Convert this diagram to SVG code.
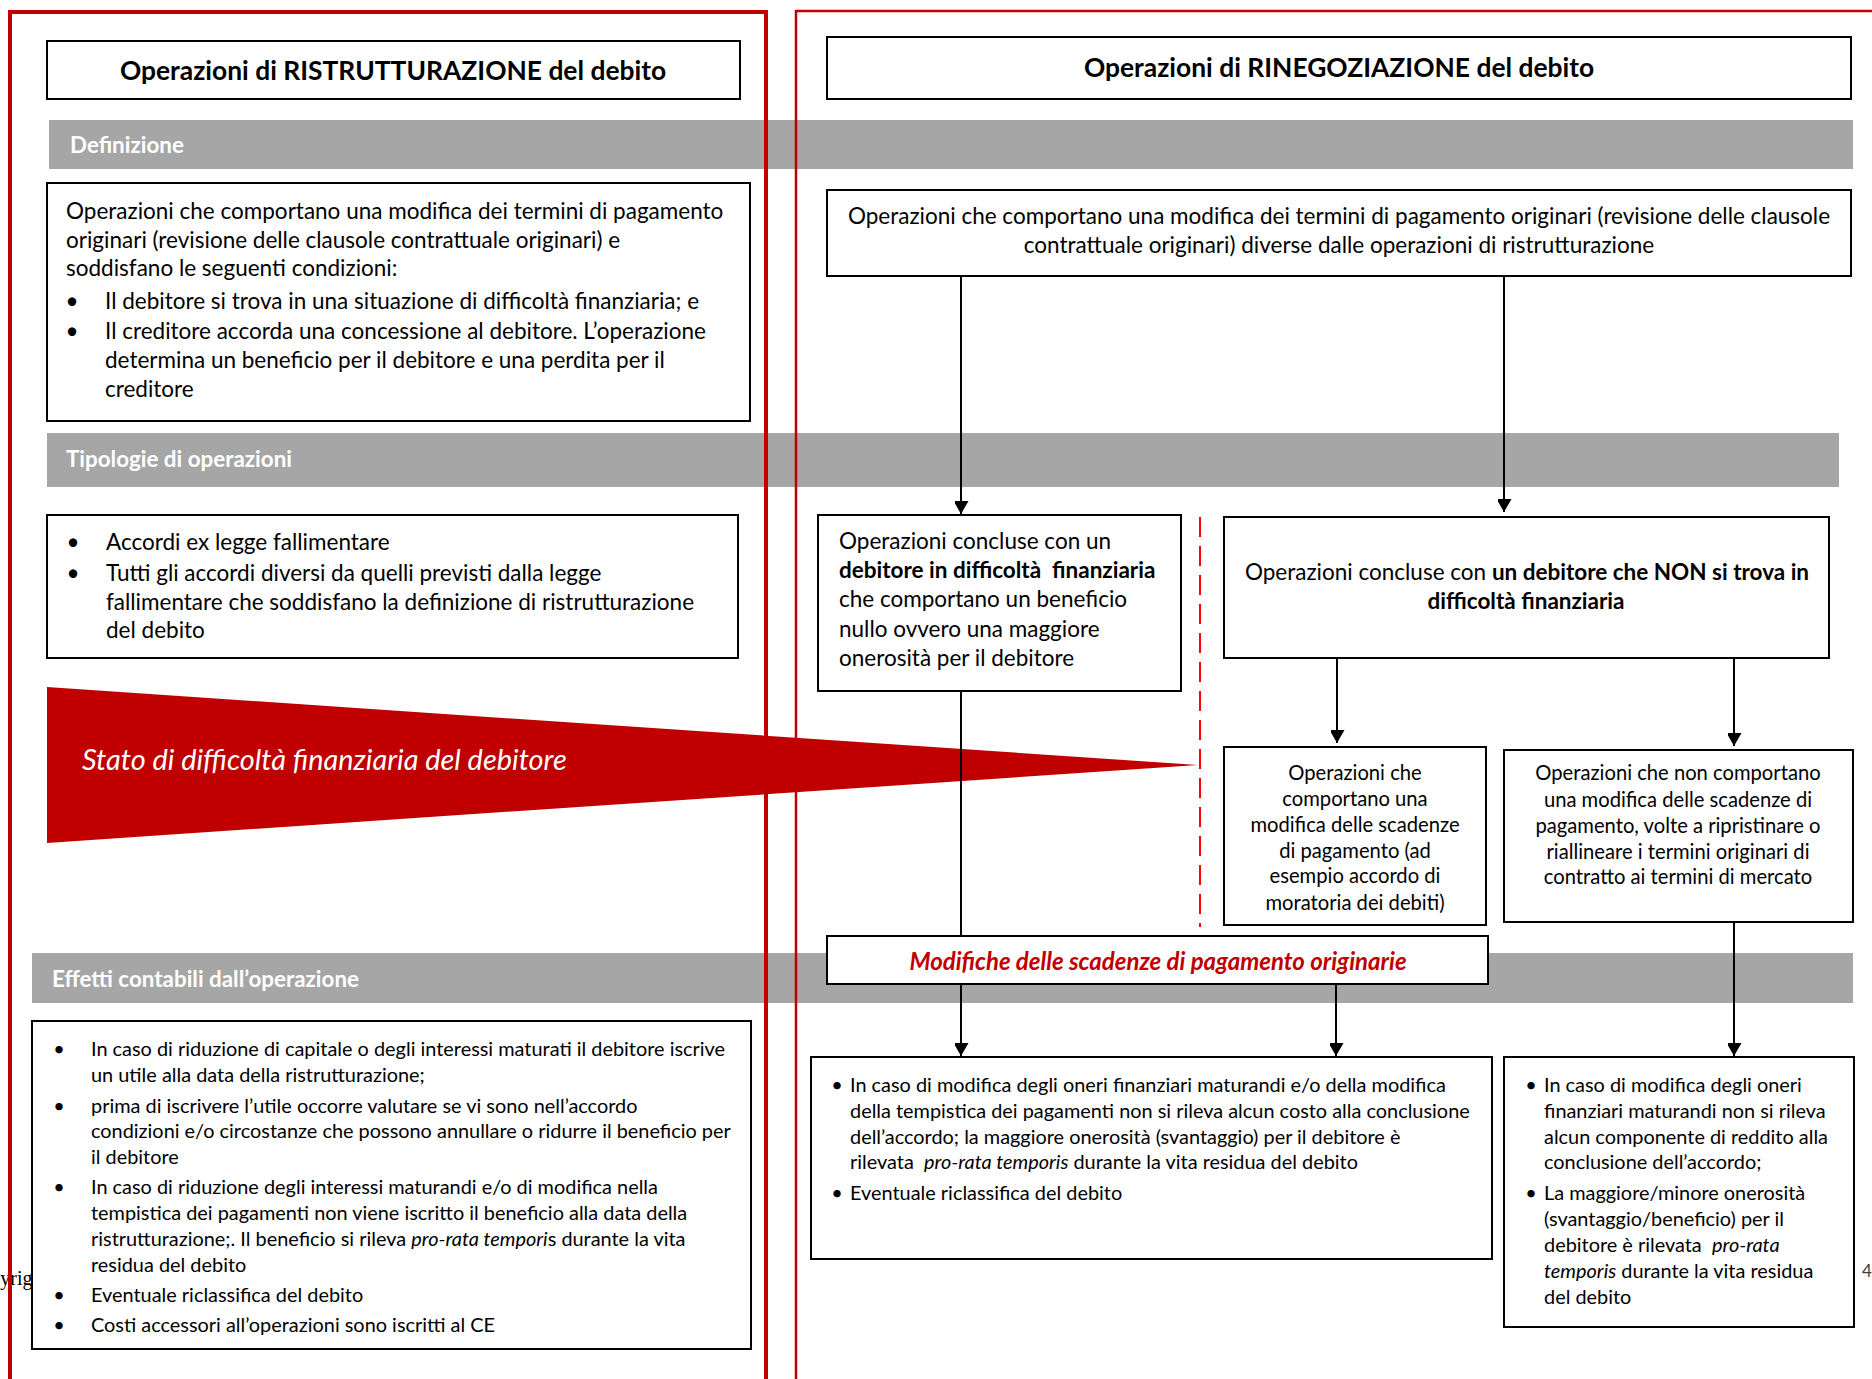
<svg xmlns="http://www.w3.org/2000/svg" width="1872" height="1379" viewBox="0 0 1872 1379">
<style>
text{font-family:Lato,"Open Sans","Liberation Sans",sans-serif;fill:#000}
.box{fill:#fff;stroke:#000;stroke-width:2}
.band{fill:#A6A6A6}
.bl{font-weight:bold;font-size:22.4px;fill:#fff}
.t20{font-size:22.5px}
.t18{font-size:20.2px}
.t17{font-size:19.9px}
.title{font-size:26.4px;font-weight:bold}
.b{font-weight:bold}
.i{font-style:italic}
.mid{text-anchor:middle}
.frame{fill:none;stroke:#C00000}
.conn{fill:none;stroke:#000;stroke-width:2}
</style>
<defs>
<marker id="ah" markerUnits="userSpaceOnUse" markerWidth="16" markerHeight="14" refX="13" refY="7.5" orient="auto">
<path d="M0,0 L13,7.5 L0,15 Z" fill="#000"/>
</marker>
</defs>
<rect width="1872" height="1379" fill="#fff"/>
<text x="-33" y="1285" style="font-family:'Liberation Serif',serif;font-size:20px">Copyright</text>
<g id="bands">
<rect class="band" x="49" y="120" width="1804" height="49"/>
<rect class="band" x="47" y="433" width="1792" height="54"/>
<rect class="band" x="32" y="953" width="1821" height="50"/>
<text class="bl" x="70" y="153">Definizione</text>
<text class="bl" x="66" y="467">Tipologie di operazioni</text>
<text class="bl" x="52" y="987">Effetti contabili dall’operazione</text>
</g>
<g id="frames">
<path class="frame" d="M10,1379 V12 H766 V1379" stroke-width="4"/>
<path class="frame" d="M796,1379 V11 H1872" stroke-width="2.5"/>
</g>
<g id="wedge">
<polygon points="47,687 1198,765 47,843" fill="#C00000"/>
<text x="82" y="770" class="i" style="font-size:28.9px;fill:#fff">Stato di difficoltà finanziaria del debitore</text>
</g>
<g id="title-left">
<rect class="box" x="47" y="41" width="693" height="58"/>
<text class="title mid" x="393" y="80">Operazioni di RISTRUTTURAZIONE del debito</text>
</g>
<g id="title-right">
<rect class="box" x="827" y="37" width="1024" height="62"/>
<text class="title mid" x="1339" y="77">Operazioni di RINEGOZIAZIONE del debito</text>
</g>
<g id="def-left">
<rect class="box" x="47" y="183" width="703" height="238"/>
<text class="t20" x="66" y="219">Operazioni che comportano una modifica dei termini di pagamento</text>
<text class="t20" x="66" y="248">originari (revisione delle clausole contrattuale originari) e</text>
<text class="t20" x="66" y="276">soddisfano le seguenti condizioni:</text>
<text class="t20 mid" x="72" y="309">•</text>
<text class="t20" x="105" y="309">Il debitore si trova in una situazione di difficoltà finanziaria; e</text>
<text class="t20 mid" x="72" y="339">•</text>
<text class="t20" x="105" y="339">Il creditore accorda una concessione al debitore. L’operazione</text>
<text class="t20" x="105" y="368">determina un beneficio per il debitore e una perdita per il</text>
<text class="t20" x="105" y="397">creditore</text>
</g>
<g id="def-right">
<rect class="box" x="827" y="190" width="1024" height="86"/>
<text class="t20 mid" x="1339" y="224">Operazioni che comportano una modifica dei termini di pagamento originari (revisione delle clausole</text>
<text class="t20 mid" x="1339" y="253">contrattuale originari) diverse dalle operazioni di ristrutturazione</text>
</g>
<g id="tipologie">
<rect class="box" x="47" y="515" width="691" height="143"/>
<text class="t20 mid" x="73" y="550">•</text>
<text class="t20" x="106" y="550">Accordi ex legge fallimentare</text>
<text class="t20 mid" x="73" y="581">•</text>
<text class="t20" x="106" y="581">Tutti gli accordi diversi da quelli previsti dalla legge</text>
<text class="t20" x="106" y="610">fallimentare che soddisfano la definizione di ristrutturazione</text>
<text class="t20" x="106" y="638">del debito</text>
</g>
<g id="difficolta">
<rect class="box" x="818" y="515" width="363" height="176"/>
<text class="t20" x="839" y="549">Operazioni concluse con un</text>
<text class="t20 b" x="839" y="578" xml:space="preserve">debitore in difficoltà  finanziaria</text>
<text class="t20" x="839" y="607">che comportano un beneficio</text>
<text class="t20" x="839" y="637">nullo ovvero una maggiore</text>
<text class="t20" x="839" y="666">onerosità per il debitore</text>
</g>
<g id="non-difficolta">
<rect class="box" x="1224" y="517" width="605" height="141"/>
<text class="t20 mid" x="1527" y="580">Operazioni concluse con <tspan class="b">un debitore che NON si trova in</tspan></text>
<text class="t20 mid b" x="1526" y="609">difficoltà finanziaria</text>
</g>
<g id="con-modifica">
<rect class="box" x="1224" y="747" width="262" height="178"/>
<text class="t18 mid" x="1355" y="780">Operazioni che</text>
<text class="t18 mid" x="1355" y="806">comportano una</text>
<text class="t18 mid" x="1355" y="832">modifica delle scadenze</text>
<text class="t18 mid" x="1355" y="858">di pagamento (ad</text>
<text class="t18 mid" x="1355" y="883">esempio accordo di</text>
<text class="t18 mid" x="1355" y="910">moratoria dei debiti)</text>
</g>
<g id="senza-modifica">
<rect class="box" x="1504" y="750" width="349" height="172"/>
<text class="t18 mid" x="1678" y="780">Operazioni che non comportano</text>
<text class="t18 mid" x="1678" y="807">una modifica delle scadenze di</text>
<text class="t18 mid" x="1678" y="833">pagamento, volte a ripristinare o</text>
<text class="t18 mid" x="1678" y="859">riallineare i termini originari di</text>
<text class="t18 mid" x="1678" y="884">contratto ai termini di mercato</text>
</g>
<g id="modifiche">
<rect class="box" x="827" y="936" width="661" height="48"/>
<text class="mid b i" x="1158" y="970" style="fill:#C00000;font-size:24px">Modifiche delle scadenze di pagamento originarie</text>
</g>
<g id="effetti-left">
<rect class="box" x="32" y="1021" width="719" height="328"/>
<text class="t17 mid" x="59" y="1056">•</text>
<text class="t17" x="91" y="1056">In caso di riduzione di capitale o degli interessi maturati il debitore iscrive</text>
<text class="t17" x="91" y="1082">un utile alla data della ristrutturazione;</text>
<text class="t17 mid" x="59" y="1113">•</text>
<text class="t17" x="91" y="1113">prima di iscrivere l’utile occorre valutare se vi sono nell’accordo</text>
<text class="t17" x="91" y="1138">condizioni e/o circostanze che possono annullare o ridurre il beneficio per</text>
<text class="t17" x="91" y="1164">il debitore</text>
<text class="t17 mid" x="59" y="1194">•</text>
<text class="t17" x="91" y="1194">In caso di riduzione degli interessi maturandi e/o di modifica nella</text>
<text class="t17" x="91" y="1220">tempistica dei pagamenti non viene iscritto il beneficio alla data della</text>
<text class="t17" x="91" y="1246">ristrutturazione;. Il beneficio si rileva <tspan class="i">pro-rata tempori</tspan>s durante la vita</text>
<text class="t17" x="91" y="1272">residua del debito</text>
<text class="t17 mid" x="59" y="1302">•</text>
<text class="t17" x="91" y="1302">Eventuale riclassifica del debito</text>
<text class="t17 mid" x="59" y="1332">•</text>
<text class="t17" x="91" y="1332">Costi accessori all’operazioni sono iscritti al CE</text>
</g>
<g id="effetti-mid">
<rect class="box" x="811" y="1057" width="681" height="202"/>
<text class="t17 mid" x="837" y="1092">•</text>
<text class="t17" x="850" y="1092">In caso di modifica degli oneri finanziari maturandi e/o della modifica</text>
<text class="t17" x="850" y="1118">della tempistica dei pagamenti non si rileva alcun costo alla conclusione</text>
<text class="t17" x="850" y="1144">dell’accordo; la maggiore onerosità (svantaggio) per il debitore è</text>
<text class="t17" x="850" y="1169" xml:space="preserve">rilevata  <tspan class="i">pro-rata temporis</tspan> durante la vita residua del debito</text>
<text class="t17 mid" x="837" y="1200">•</text>
<text class="t17" x="850" y="1200">Eventuale riclassifica del debito</text>
</g>
<g id="effetti-right">
<rect class="box" x="1504" y="1057" width="350" height="270"/>
<text class="t17 mid" x="1531" y="1092">•</text>
<text class="t17" x="1544" y="1092">In caso di modifica degli oneri</text>
<text class="t17" x="1544" y="1118">finanziari maturandi non si rileva</text>
<text class="t17" x="1544" y="1144">alcun componente di reddito alla</text>
<text class="t17" x="1544" y="1169">conclusione dell’accordo;</text>
<text class="t17 mid" x="1531" y="1200">•</text>
<text class="t17" x="1544" y="1200">La maggiore/minore onerosità</text>
<text class="t17" x="1544" y="1226">(svantaggio/beneficio) per il</text>
<text class="t17" x="1544" y="1252" xml:space="preserve">debitore è rilevata  <tspan class="i">pro-rata</tspan></text>
<text class="t17" x="1544" y="1278"><tspan class="i">temporis</tspan> durante la vita residua</text>
<text class="t17" x="1544" y="1304">del debito</text>
</g>
<text x="1862" y="1277" style="font-size:17px;fill:#404040">4</text>
<g id="connectors">
<path class="conn" d="M1200,517 V927" style="stroke:#FF0000;stroke-dasharray:20 9"/>
<path class="conn" d="M961,276 V514" marker-end="url(#ah)"/>
<path class="conn" d="M1504,276 V512" marker-end="url(#ah)"/>
<path class="conn" d="M1337,658 V743" marker-end="url(#ah)"/>
<path class="conn" d="M1734,658 V746" marker-end="url(#ah)"/>
<path class="conn" d="M961,691 V936"/>
<path class="conn" d="M961,984 V1056" marker-end="url(#ah)"/>
<path class="conn" d="M1336,984 V1056" marker-end="url(#ah)"/>
<path class="conn" d="M1734,922 V1056" marker-end="url(#ah)"/>
</g>
</svg>
